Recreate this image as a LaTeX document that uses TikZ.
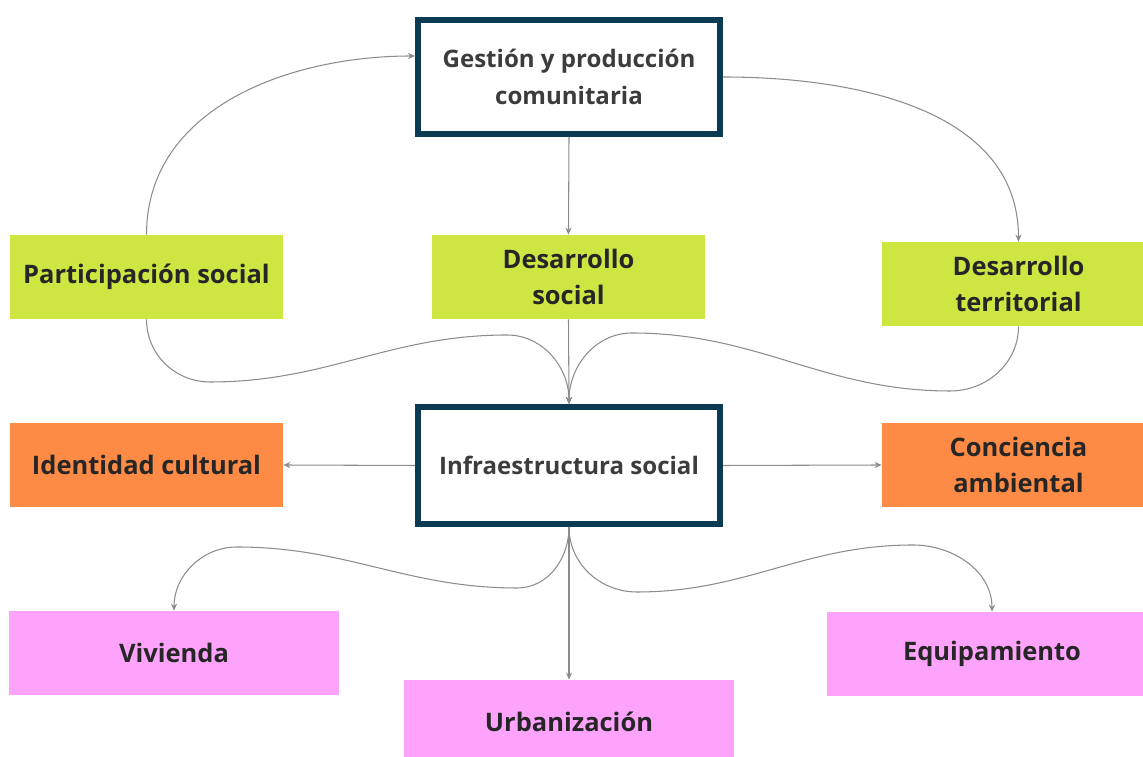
\documentclass[tikz,border=0pt]{standalone}
\usepackage{fontspec}
\setmainfont{Open Sans}
\usetikzlibrary{arrows.meta}

\definecolor{navy}{HTML}{0B3A53}
\definecolor{lime}{HTML}{CFE642}
\definecolor{tang}{HTML}{FD8B45}
\definecolor{rosa}{HTML}{FEA3FB}
\definecolor{ink}{HTML}{262626}
\definecolor{wire}{HTML}{8C8C8C}

\begin{document}
\begin{tikzpicture}[x=0.02cm, y=0.02cm,
    every node/.style={align=center, text=ink, font=\fontsize{14.5}{21}\selectfont\bfseries},
    hub/.style={draw=navy, line width=0.12cm, fill=white, minimum width=6.04cm,
        text=ink!90, font=\fontsize{13.7}{21}\selectfont\bfseries},
    leaf/.style={minimum width=5.46cm, minimum height=1.68cm},
    wide/.style={minimum width=6.6cm, minimum height=1.68cm},
    link/.style={draw=wire, line width=0.6pt, -{Stealth[length=4pt, width=3.5pt]}}]

    \useasboundingbox (0,0) rectangle (1143,757);

    % Nodes
    \node[hub, minimum height=2.28cm] (gest) at (569,680) {Gestión y producción\\comunitaria};
    \node[leaf, fill=lime] (part) at (146.5,480) {Participación social};
    \node[leaf, fill=lime] (dsoc) at (568.5,480) {Desarrollo\\social};
    \node[leaf, fill=lime] (terr) at (1018.5,473) {Desarrollo\\territorial};
    \node[hub, minimum height=2.34cm] (infra) at (569,291.5) {Infraestructura social};
    \node[leaf, fill=tang] (ident) at (146.5,292) {Identidad cultural};
    \node[leaf, fill=tang] (conc) at (1018.5,292) {Conciencia\\ambiental};
    \node[wide, fill=rosa] (viv) at (174,104) {Vivienda};
    \node[wide, fill=rosa] (urb) at (569,35) {Urbanización};
    \node[wide, fill=rosa] (equip) at (992,103) {Equipamiento};

    % Lines
    \draw[link] (part.north) to[out=90, in=180] ([yshift=0.42cm]gest.west);
    \draw[link] (gest.east) to[out=0, in=90] (terr.north);
    \draw[link] (gest.south) -- (dsoc.north);
    \draw[link] (dsoc.south) -- (infra.north);
    \draw[link] (part.south) to[out=-90, in=180] (210,375) to[out=0, in=180] (507,422)
        to[out=0, in=90] (infra.north);
    \draw[link] (terr.south) to[out=-90, in=0] (950,366) to[out=180, in=0] (632,424)
        to[out=180, in=90] (infra.north);
    \draw[link] (infra.west) -- (ident.east);
    \draw[link] (infra.east) -- (conc.west);
    \draw[link] (infra.south) -- (urb.north);
    \draw[link] (infra.south) to[out=-90, in=0] (517,169) to[out=180, in=0] (237,210)
        to[out=180, in=90] (viv.north);
    \draw[link] (infra.south) to[out=-90, in=180] (637,165) to[out=0, in=180] (913,212)
        to[out=0, in=90] (equip.north);

\end{tikzpicture}
\end{document}
